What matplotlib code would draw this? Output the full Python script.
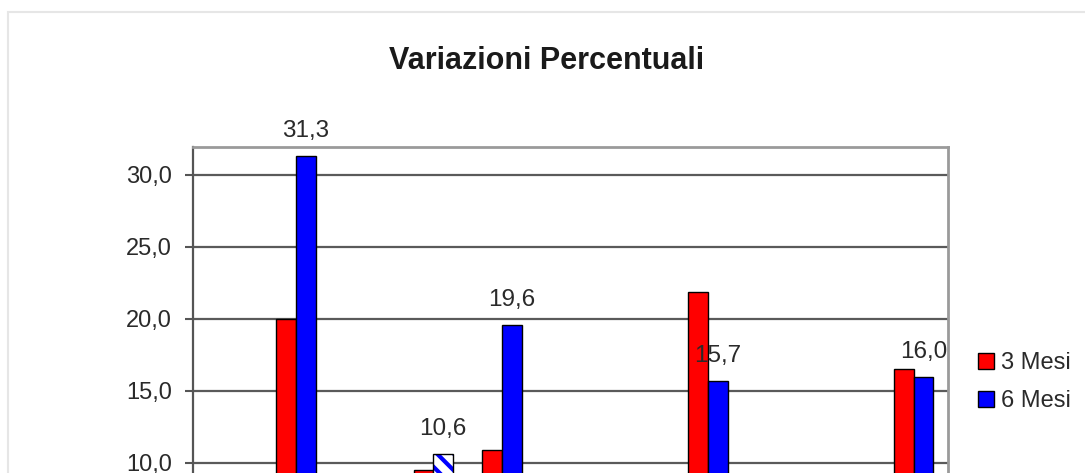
import numpy as np
import matplotlib
matplotlib.use("Agg")
import matplotlib.pyplot as plt
from matplotlib.patches import Rectangle, Patch

plt.rcParams['font.family'] = ['Liberation Sans', 'DejaVu Sans']

# data (bottom of the chart is cut off in the reference; hidden bars are small)
categories = ["1", "2", "3", "4", "5", "6", "7", "8", "9", "10", "11"]
mesi3 = [4.0, 20.0, 5.0, 9.5, 10.9, 4.5, 5.5, 21.9, 3.5, 4.0, 16.5]
mesi6 = [3.0, 31.3, 4.0, 10.6, 19.6, 3.5, 4.5, 15.7, 2.5, 3.0, 16.0]
hatched = [3]            # bar of "6 Mesi" drawn with stripes
labelled = [1, 3, 4, 7, 10]
yticks = [10, 15, 20, 25, 30]

fig = plt.figure(figsize=(10.85, 4.73), dpi=100)
ax = fig.add_axes([0.1779, -0.2833, 0.6959, 0.9725])

x = np.arange(len(categories))
w = 0.287
ax.bar(x - w/2, mesi3, w, color='#ff0000', edgecolor='black', linewidth=1, zorder=3)
plain = [i for i in x if i not in hatched]
ax.bar(x[plain] + w/2, np.array(mesi6)[plain], w, color='#0000ff',
       edgecolor='black', linewidth=1, zorder=3)
plt.rcParams['hatch.linewidth'] = 3
for i in hatched:
    ax.bar(i + w/2, mesi6[i], w, color='white', edgecolor='#0000ff',
           hatch='\\\\', linewidth=0, zorder=3)
    ax.bar(i + w/2, mesi6[i], w, fill=False, edgecolor='black', linewidth=1, zorder=4)

for i in labelled:
    ax.annotate(f"{mesi6[i]:.1f}".replace('.', ','), (i + w/2, mesi6[i]),
                xytext=(0, 18), textcoords='offset points', ha='center',
                va='center', fontsize=17.5, color='#2a2a2a', zorder=5)

ax.set_xlim(-0.5, len(categories) - 0.5)
ax.set_ylim(0, 31.94)
ax.set_yticks(yticks)
ax.set_yticklabels([f"{v:.1f}".replace('.', ',') for v in yticks], fontsize=17, color='#2a2a2a')
ax.set_xticks(x)
ax.tick_params(axis='x', labelbottom=False)
ax.tick_params(axis='y', length=6, width=1.5, color='#555555', pad=9)
ax.yaxis.grid(True, color='#5a5a5a', linewidth=1.6, zorder=1)
ax.set_axisbelow(True)
ax.spines['left'].set_color('#555555')
ax.spines['left'].set_linewidth(1.6)
for s in ['top', 'right']:
    ax.spines[s].set_color('#9a9a9a')
    ax.spines[s].set_linewidth(2)

fig.text(0.5037, 0.871, "Variazioni Percentuali", ha='center', va='center',
         fontsize=22, fontweight='bold', color='#1a1a1a')

handles = [Patch(facecolor='#ff0000', edgecolor='black', linewidth=1),
           Patch(facecolor='#0000ff', edgecolor='black', linewidth=1)]
fig.legend(handles, ["3 Mesi", "6 Mesi"], loc='center left',
           bbox_to_anchor=(978/1085, 1 - 382/473), frameon=False, fontsize=17,
           handlelength=0.68, handleheight=0.68, handletextpad=0.3,
           labelspacing=0.68, borderpad=0, borderaxespad=0, labelcolor='#2a2a2a')

fig.patches.append(Rectangle((8/1085, -0.1), 1.1, 1.1 - 12/473,
                             transform=fig.transFigure, fill=False,
                             edgecolor='#e6e6e6', linewidth=1.5, zorder=0))

fig.savefig("out.png", dpi=100)
